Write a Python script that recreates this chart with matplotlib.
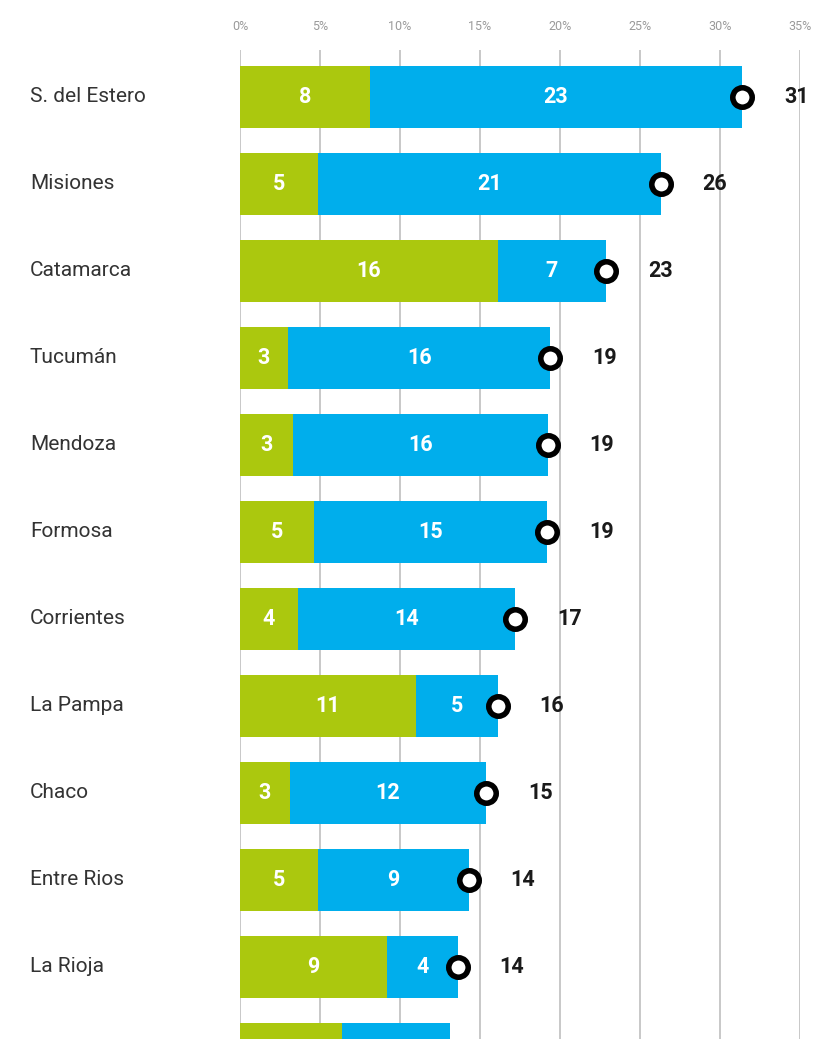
import matplotlib.pyplot as plt
import matplotlib.transforms as mtransforms

provincias = ['S. del Estero', 'Misiones', 'Catamarca', 'Tucumán', 'Mendoza',
              'Formosa', 'Corrientes', 'La Pampa', 'Chaco', 'Entre Rios',
              'La Rioja', 'Jujuy']
verde = [8.1, 4.9, 16.1, 3.0, 3.3, 4.6, 3.6, 11.0, 3.1, 4.9, 9.2, 6.4]
azul = [23.3, 21.4, 6.8, 16.4, 15.95, 14.6, 13.6, 5.1, 12.3, 9.4, 4.4, 6.7]
ticks = [0, 5, 10, 15, 20, 25, 30, 35]

c_verde = '#abc80e'
c_azul = '#00aeec'

fig = plt.figure(figsize=(8.26, 10.39), dpi=100)
ax = fig.add_axes([240/826, 0, 560/826, 1 - 50/1039])
ymin, ymax = 10.828, -0.540

y = list(range(len(provincias)))
total = [g + b for g, b in zip(verde, azul)]

for x in ticks:
    ax.axvline(x, color='#c4c4c4', lw=1.3, zorder=0)

ax.barh(y, verde, height=0.71, color=c_verde, zorder=2)
ax.barh(y, azul, left=verde, height=0.71, color=c_azul, zorder=2)
ax.plot(total, y, 'o', ms=14, mfc='white', mec='black', mew=4, zorder=4)

trans = mtransforms.blended_transform_factory(fig.transFigure, ax.transData)
for i in y:
    # la ultima fila queda cortada, sin textos
    if i > ymin:
        continue
    ax.text(verde[i] / 2, i, '%d' % round(verde[i]), color='white',
            fontsize=15.5, fontweight='bold', ha='center', va='center',
            family='Roboto', zorder=3)
    ax.text(verde[i] + azul[i] / 2, i, '%d' % round(azul[i]), color='white',
            fontsize=15.5, fontweight='bold', ha='center', va='center',
            family='Roboto', zorder=3)
    ax.annotate('%d' % round(total[i]), (total[i], i), xytext=(30, 0),
                textcoords='offset points', ha='left', va='center',
                fontsize=15.5, fontweight='bold', color='#1a1a1a',
                family='Roboto', zorder=5)
    ax.text(30/826, i, provincias[i], transform=trans, ha='left',
            va='center', fontsize=15, color='#333333', family='Roboto')

ax.set_xlim(0, 35)
ax.set_ylim(ymin, ymax)
ax.xaxis.tick_top()
ax.set_xticks(ticks)
ax.set_xticklabels(['%d%%' % t for t in ticks], fontsize=9, color='#9a9a9a',
                   family='Roboto')
ax.tick_params(axis='x', length=0, pad=12)
ax.set_yticks([])
for s in ax.spines.values():
    s.set_visible(False)

plt.savefig('out.png', dpi=100)
